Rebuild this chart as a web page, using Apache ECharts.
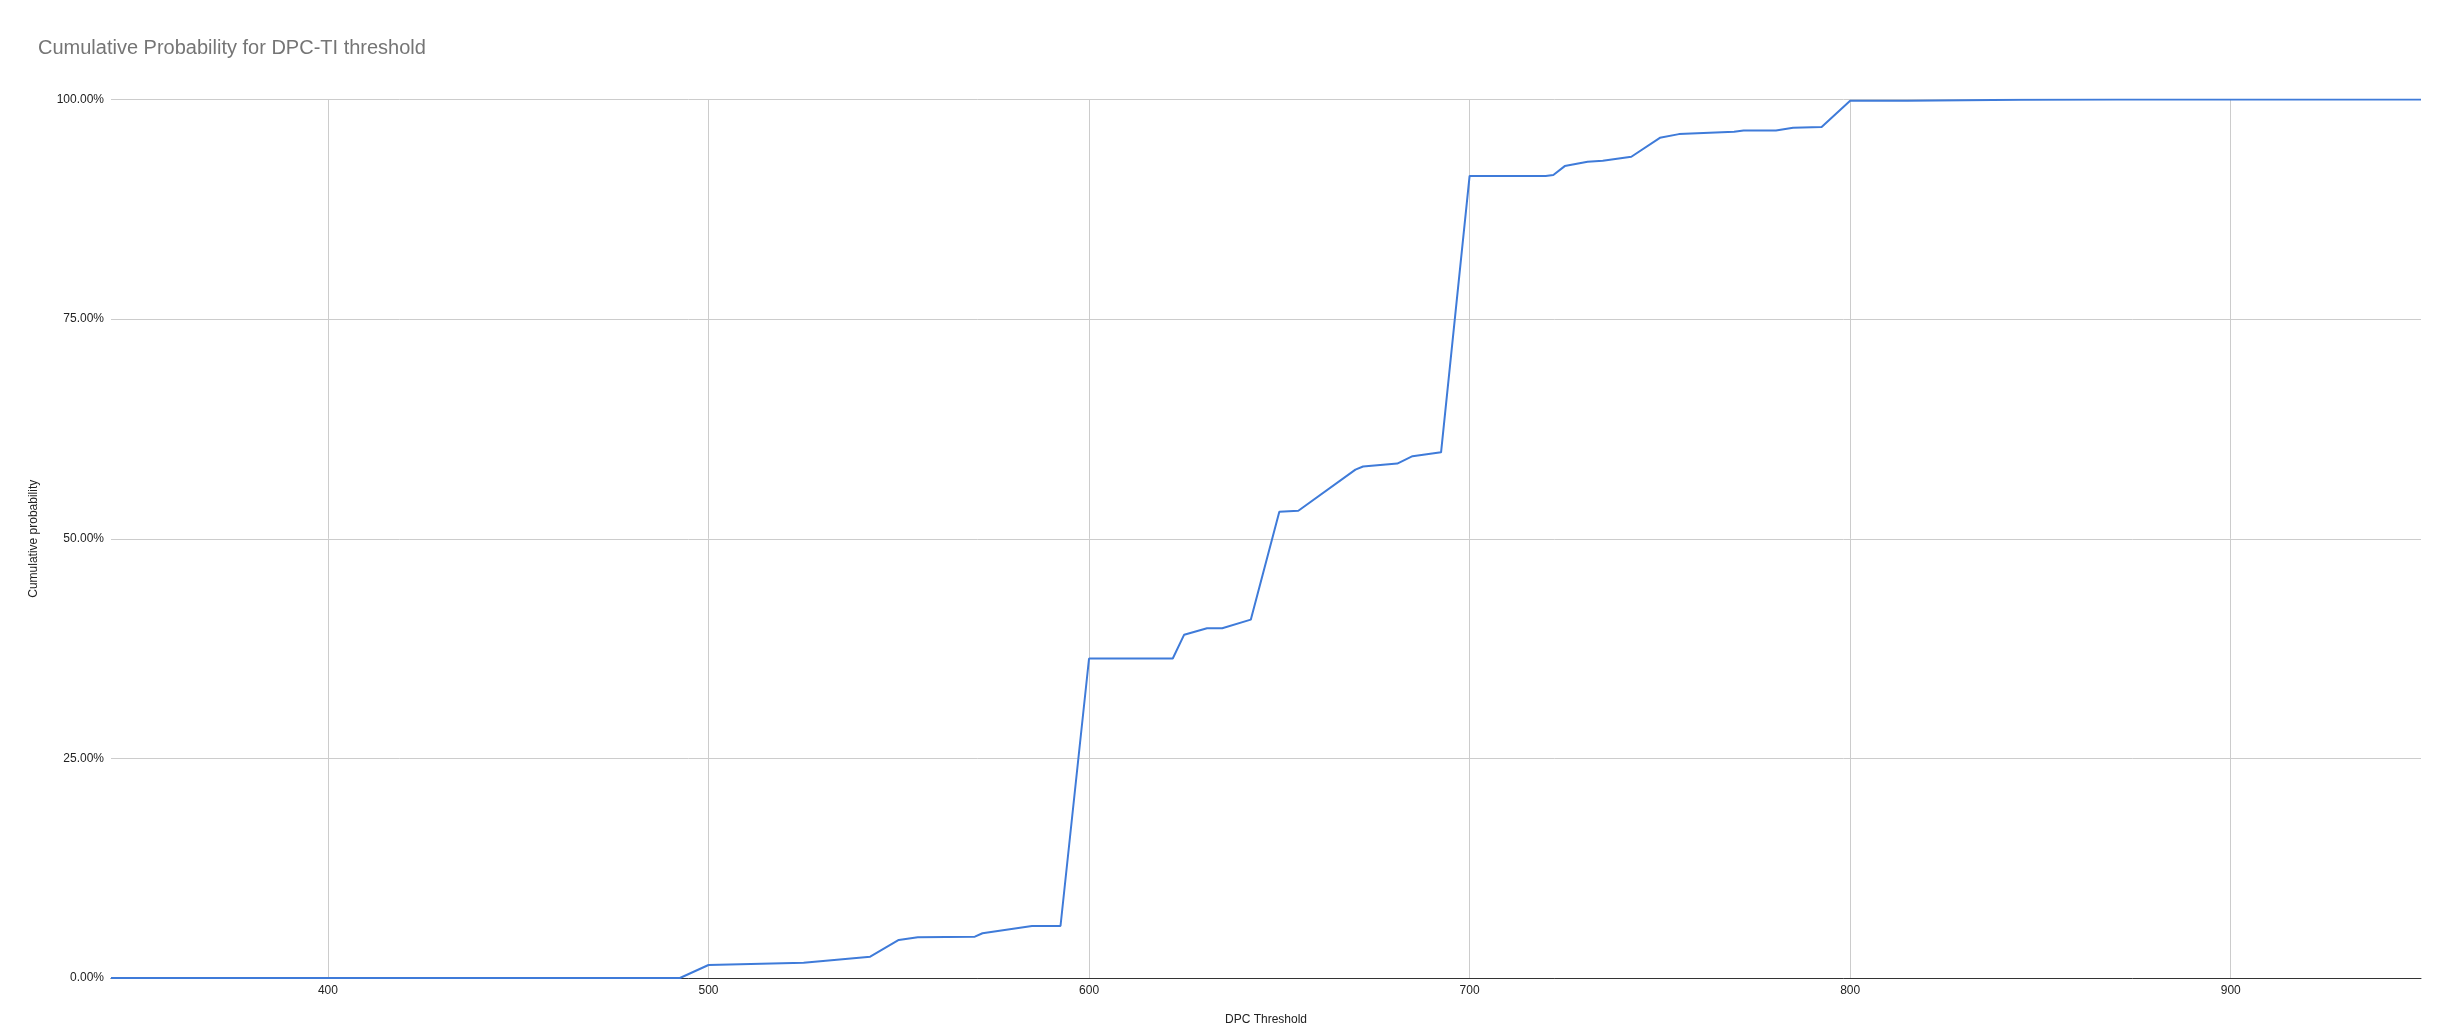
<!DOCTYPE html>
<html>
<head>
<meta charset="utf-8">
<script src="https://cdn.jsdelivr.net/npm/echarts@6/dist/echarts.min.js"></script>
<style>
html,body{margin:0;padding:0;background:#fff;}
#chart{width:2456px;height:1034px;}
</style>
</head>
<body>
<div id="chart"></div>
<script>
const titleText = 'Cumulative Probability for DPC-TI threshold';
const xAxisName = 'DPC Threshold';
const yAxisName = 'Cumulative probability';

const thresholds = [343, 492.5, 500, 525, 542.5, 550, 555, 570, 572, 585, 592.5,
  600, 622, 625, 631, 635, 642.5, 650, 655, 670, 672, 681, 685, 692.5,
  700, 720, 722, 725, 731, 735, 742.5, 750, 755, 769.5, 772, 780.5, 785, 792.5,
  800, 815, 845, 870, 950];
const cumulativePct = [0, 0, 1.48, 1.74, 2.43, 4.33, 4.63, 4.70, 5.09, 5.92, 5.92,
  36.37, 36.37, 39.08, 39.82, 39.82, 40.79, 53.06, 53.19, 57.87, 58.22, 58.56, 59.40, 59.84,
  91.30, 91.30, 91.40, 92.42, 92.92, 93.03, 93.48, 95.64, 96.06, 96.33, 96.48, 96.48, 96.78, 96.86,
  99.85, 99.87, 99.96, 100, 100];

const xTickValues = [400, 500, 600, 700, 800, 900];
const xMin = 343, xMax = 950;
const yTickStep = 25;

const chart = echarts.init(document.getElementById('chart'), null, {renderer: 'canvas'});
const points = thresholds.map((t, i) => [t, cumulativePct[i]]);

chart.setOption({
  animation: false,
  backgroundColor: '#ffffff',
  title: {
    text: titleText,
    left: 33, top: 33,
    textStyle: {fontFamily: 'Liberation Sans, Arial, sans-serif', fontSize: 20, fontWeight: 'normal', color: '#757575'}
  },
  grid: {left: 111, right: 35, top: 99.5, bottom: 56, containLabel: false},
  xAxis: {
    type: 'value', min: xMin, max: xMax,
    name: xAxisName, nameLocation: 'middle', nameGap: 36,
    nameTextStyle: {fontFamily: 'Liberation Sans, Arial, sans-serif', fontSize: 12, color: '#222'},
    axisLine: {show: true, lineStyle: {color: '#333', width: 1}},
    axisTick: {show: false},
    splitLine: {show: false},
    axisLabel: {
      customValues: xTickValues,
      margin: 7,
      fontFamily: 'Liberation Sans, Arial, sans-serif', fontSize: 12, color: '#222'
    }
  },
  yAxis: {
    type: 'value', min: 0, max: 100, interval: yTickStep,
    name: yAxisName, nameLocation: 'middle', nameGap: 71,
    nameTextStyle: {fontFamily: 'Liberation Sans, Arial, sans-serif', fontSize: 12, color: '#222'},
    axisLine: {show: false},
    axisTick: {show: false},
    splitLine: {show: true, lineStyle: {color: '#cccccc', width: 1}},
    axisLabel: {
      margin: 7,
      formatter: v => v.toFixed(2) + '%',
      fontFamily: 'Liberation Sans, Arial, sans-serif', fontSize: 12, color: '#222'
    }
  },
  series: [
    {
      type: 'line', data: [], silent: true, z: 1,
      markLine: {
        silent: true, symbol: 'none', z: 1,
        label: {show: false},
        lineStyle: {color: '#cccccc', width: 1, type: 'solid'},
        emphasis: {disabled: true},
        data: xTickValues.map(v => ({xAxis: v}))
      }
    },
    {
      type: 'line', data: points, z: 3,
      showSymbol: false, symbol: 'none',
      lineStyle: {color: '#3f7bd9', width: 2},
      itemStyle: {color: '#3f7bd9'}
    }
  ]
});
</script>
</body>
</html>
